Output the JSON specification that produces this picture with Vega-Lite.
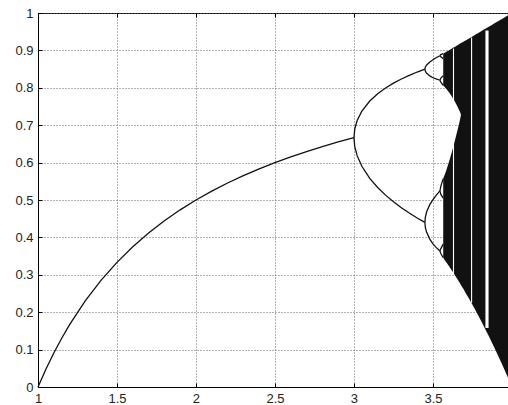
{
  "$schema": "https://vega.github.io/schema/vega-lite/v6.json",
  "width": 470,
  "height": 374,
  "autosize": {"type": "none"},
  "padding": {"left": 38, "top": 13, "right": 0, "bottom": 18},
  "background": "#ffffff",
  "config": {
    "view": {"stroke": "#000000", "strokeWidth": 1},
    "axis": {
      "title": null,
      "labelFont": "Liberation Sans",
      "labelFontSize": 13,
      "labelColor": "#222222",
      "labelOverlap": false,
      "labelBound": false,
      "labelFlush": false,
      "domainColor": "#000000",
      "tickColor": "#000000",
      "gridColor": "#666666",
      "gridDash": [1, 2],
      "gridOpacity": 1,
      "gridWidth": 1
    }
  },
  "datasets": {
    "bands": [
      {"band": "up", "r": 3.565, "lo": 0.8062, "hi": 0.8913},
      {"band": "up", "r": 3.57, "lo": 0.804, "hi": 0.8925},
      {"band": "up", "r": 3.58, "lo": 0.7992, "hi": 0.895},
      {"band": "up", "r": 3.59, "lo": 0.7941, "hi": 0.8975},
      {"band": "up", "r": 3.6, "lo": 0.7885, "hi": 0.9},
      {"band": "up", "r": 3.61, "lo": 0.7825, "hi": 0.9025},
      {"band": "up", "r": 3.62, "lo": 0.776, "hi": 0.905},
      {"band": "up", "r": 3.63, "lo": 0.7691, "hi": 0.9075},
      {"band": "up", "r": 3.64, "lo": 0.7617, "hi": 0.91},
      {"band": "up", "r": 3.65, "lo": 0.7537, "hi": 0.9125},
      {"band": "up", "r": 3.66, "lo": 0.7453, "hi": 0.915},
      {"band": "up", "r": 3.67, "lo": 0.7363, "hi": 0.9175},
      {"band": "up", "r": 3.678, "lo": 0.7279, "hi": 0.9195},
      {"band": "low", "r": 3.565, "lo": 0.3455, "hi": 0.5571},
      {"band": "low", "r": 3.57, "lo": 0.3425, "hi": 0.5627},
      {"band": "low", "r": 3.58, "lo": 0.3364, "hi": 0.5744},
      {"band": "low", "r": 3.59, "lo": 0.3303, "hi": 0.5871},
      {"band": "low", "r": 3.6, "lo": 0.324, "hi": 0.6003},
      {"band": "low", "r": 3.61, "lo": 0.3177, "hi": 0.6145},
      {"band": "low", "r": 3.62, "lo": 0.3112, "hi": 0.6293},
      {"band": "low", "r": 3.63, "lo": 0.3047, "hi": 0.6447},
      {"band": "low", "r": 3.64, "lo": 0.2981, "hi": 0.6608},
      {"band": "low", "r": 3.65, "lo": 0.2914, "hi": 0.6776},
      {"band": "low", "r": 3.66, "lo": 0.2847, "hi": 0.6948},
      {"band": "low", "r": 3.67, "lo": 0.2778, "hi": 0.7126},
      {"band": "low", "r": 3.678, "lo": 0.2722, "hi": 0.7279},
      {"band": "main", "r": 3.677, "lo": 0.2729, "hi": 0.9193},
      {"band": "main", "r": 3.69, "lo": 0.2638, "hi": 0.9225},
      {"band": "main", "r": 3.7, "lo": 0.2567, "hi": 0.925},
      {"band": "main", "r": 3.725, "lo": 0.2385, "hi": 0.93125},
      {"band": "main", "r": 3.75, "lo": 0.2197, "hi": 0.9375},
      {"band": "main", "r": 3.775, "lo": 0.2004, "hi": 0.94375},
      {"band": "main", "r": 3.8, "lo": 0.1805, "hi": 0.95},
      {"band": "main", "r": 3.825, "lo": 0.16, "hi": 0.95625},
      {"band": "main", "r": 3.85, "lo": 0.139, "hi": 0.9625},
      {"band": "main", "r": 3.875, "lo": 0.1173, "hi": 0.96875},
      {"band": "main", "r": 3.9, "lo": 0.0951, "hi": 0.975},
      {"band": "main", "r": 3.925, "lo": 0.0722, "hi": 0.98125},
      {"band": "main", "r": 3.95, "lo": 0.0488, "hi": 0.9875},
      {"band": "main", "r": 3.975, "lo": 0.0247, "hi": 0.99375}
    ],
    "windows": [
      {"r1": 3.6265, "r2": 3.6335, "lo": 0.3, "hi": 0.905},
      {"r1": 3.741, "r2": 3.748, "lo": 0.225, "hi": 0.934},
      {"r1": 3.832, "r2": 3.852, "lo": 0.158, "hi": 0.953}
    ],
    "curves": [
      {"b": "p1", "r": 1.0, "x": 0.0},
      {"b": "p1", "r": 1.05, "x": 0.0476},
      {"b": "p1", "r": 1.1, "x": 0.0909},
      {"b": "p1", "r": 1.15, "x": 0.1304},
      {"b": "p1", "r": 1.2, "x": 0.1667},
      {"b": "p1", "r": 1.3, "x": 0.2308},
      {"b": "p1", "r": 1.4, "x": 0.2857},
      {"b": "p1", "r": 1.5, "x": 0.3333},
      {"b": "p1", "r": 1.6, "x": 0.375},
      {"b": "p1", "r": 1.7, "x": 0.4118},
      {"b": "p1", "r": 1.8, "x": 0.4444},
      {"b": "p1", "r": 1.9, "x": 0.4737},
      {"b": "p1", "r": 2.0, "x": 0.5},
      {"b": "p1", "r": 2.1, "x": 0.5238},
      {"b": "p1", "r": 2.2, "x": 0.5455},
      {"b": "p1", "r": 2.3, "x": 0.5652},
      {"b": "p1", "r": 2.4, "x": 0.5833},
      {"b": "p1", "r": 2.5, "x": 0.6},
      {"b": "p1", "r": 2.6, "x": 0.6154},
      {"b": "p1", "r": 2.7, "x": 0.6296},
      {"b": "p1", "r": 2.8, "x": 0.6429},
      {"b": "p1", "r": 2.9, "x": 0.6552},
      {"b": "p1", "r": 3.0, "x": 0.6667},
      {"b": "p2u", "r": 3.0, "x": 0.6667},
      {"b": "p2u", "r": 3.005, "x": 0.6899},
      {"b": "p2u", "r": 3.02, "x": 0.7125},
      {"b": "p2u", "r": 3.05, "x": 0.7377},
      {"b": "p2u", "r": 3.1, "x": 0.7646},
      {"b": "p2u", "r": 3.15, "x": 0.784},
      {"b": "p2u", "r": 3.2, "x": 0.7995},
      {"b": "p2u", "r": 3.25, "x": 0.8124},
      {"b": "p2u", "r": 3.3, "x": 0.8236},
      {"b": "p2u", "r": 3.35, "x": 0.8334},
      {"b": "p2u", "r": 3.4, "x": 0.8422},
      {"b": "p2u", "r": 3.449, "x": 0.8499},
      {"b": "p2l", "r": 3.0, "x": 0.6667},
      {"b": "p2l", "r": 3.005, "x": 0.6428},
      {"b": "p2l", "r": 3.02, "x": 0.6186},
      {"b": "p2l", "r": 3.05, "x": 0.5902},
      {"b": "p2l", "r": 3.1, "x": 0.558},
      {"b": "p2l", "r": 3.15, "x": 0.5335},
      {"b": "p2l", "r": 3.2, "x": 0.513},
      {"b": "p2l", "r": 3.25, "x": 0.4953},
      {"b": "p2l", "r": 3.3, "x": 0.4794},
      {"b": "p2l", "r": 3.35, "x": 0.4651},
      {"b": "p2l", "r": 3.4, "x": 0.452},
      {"b": "p2l", "r": 3.449, "x": 0.4401},
      {"b": "p4a", "r": 3.449, "x": 0.8499},
      {"b": "p4a", "r": 3.452, "x": 0.8557},
      {"b": "p4a", "r": 3.46, "x": 0.8612},
      {"b": "p4a", "r": 3.48, "x": 0.8692},
      {"b": "p4a", "r": 3.5, "x": 0.875},
      {"b": "p4a", "r": 3.52, "x": 0.8803},
      {"b": "p4a", "r": 3.544, "x": 0.8858},
      {"b": "p4b", "r": 3.449, "x": 0.8499},
      {"b": "p4b", "r": 3.452, "x": 0.8441},
      {"b": "p4b", "r": 3.46, "x": 0.8388},
      {"b": "p4b", "r": 3.48, "x": 0.8318},
      {"b": "p4b", "r": 3.5, "x": 0.8269},
      {"b": "p4b", "r": 3.52, "x": 0.8237},
      {"b": "p4b", "r": 3.544, "x": 0.8202},
      {"b": "p4c", "r": 3.449, "x": 0.4401},
      {"b": "p4c", "r": 3.452, "x": 0.4544},
      {"b": "p4c", "r": 3.46, "x": 0.4684},
      {"b": "p4c", "r": 3.48, "x": 0.4875},
      {"b": "p4c", "r": 3.5, "x": 0.5009},
      {"b": "p4c", "r": 3.52, "x": 0.5126},
      {"b": "p4c", "r": 3.544, "x": 0.5245},
      {"b": "p4d", "r": 3.449, "x": 0.4401},
      {"b": "p4d", "r": 3.452, "x": 0.4258},
      {"b": "p4d", "r": 3.46, "x": 0.4136},
      {"b": "p4d", "r": 3.48, "x": 0.3955},
      {"b": "p4d", "r": 3.5, "x": 0.3828},
      {"b": "p4d", "r": 3.52, "x": 0.3734},
      {"b": "p4d", "r": 3.544, "x": 0.3635},
      {"b": "p8a1", "r": 3.544, "x": 0.8858},
      {"b": "p8a1", "r": 3.55, "x": 0.889},
      {"b": "p8a1", "r": 3.565, "x": 0.8913},
      {"b": "p8a2", "r": 3.544, "x": 0.8858},
      {"b": "p8a2", "r": 3.55, "x": 0.883},
      {"b": "p8a2", "r": 3.565, "x": 0.878},
      {"b": "p8b1", "r": 3.544, "x": 0.8202},
      {"b": "p8b1", "r": 3.55, "x": 0.826},
      {"b": "p8b1", "r": 3.565, "x": 0.832},
      {"b": "p8b2", "r": 3.544, "x": 0.8202},
      {"b": "p8b2", "r": 3.55, "x": 0.815},
      {"b": "p8b2", "r": 3.565, "x": 0.8062},
      {"b": "p8c1", "r": 3.544, "x": 0.5245},
      {"b": "p8c1", "r": 3.55, "x": 0.537},
      {"b": "p8c1", "r": 3.565, "x": 0.5571},
      {"b": "p8c2", "r": 3.544, "x": 0.5245},
      {"b": "p8c2", "r": 3.55, "x": 0.515},
      {"b": "p8c2", "r": 3.565, "x": 0.505},
      {"b": "p8d1", "r": 3.544, "x": 0.3635},
      {"b": "p8d1", "r": 3.55, "x": 0.357},
      {"b": "p8d1", "r": 3.565, "x": 0.3455},
      {"b": "p8d2", "r": 3.544, "x": 0.3635},
      {"b": "p8d2", "r": 3.55, "x": 0.37},
      {"b": "p8d2", "r": 3.565, "x": 0.382}
    ]
  },
  "resolve": {"axis": {"x": "independent"}},
  "layer": [
    {
      "data": {"name": "bands"},
      "mark": {"type": "area", "color": "#111111", "interpolate": "monotone"},
      "encoding": {
        "x": {
          "field": "r", "type": "quantitative",
          "scale": {"domain": [1, 3.975], "nice": false},
          "axis": {"orient": "bottom", "values": [1, 1.5, 2, 2.5, 3, 3.5], "tickCount": 20, "format": "~g", "grid": true, "tickSize": -4, "labelPadding": 9}
        },
        "y": {
          "field": "lo", "type": "quantitative",
          "scale": {"domain": [0, 1], "nice": false},
          "axis": {"values": [0, 0.1, 0.2, 0.3, 0.4, 0.5, 0.6, 0.7, 0.8, 0.9, 1], "tickCount": 20, "format": "~g", "grid": true, "tickSize": -4, "labelPadding": 9}
        },
        "y2": {"field": "hi"},
        "detail": {"field": "band"}
      }
    },
    {
      "data": {"name": "windows"},
      "mark": {"type": "rect", "color": "#ffffff"},
      "encoding": {
        "x": {"field": "r1", "type": "quantitative", "axis": null},
        "x2": {"field": "r2"},
        "y": {
          "field": "lo", "type": "quantitative",
          "axis": {"values": [0, 0.1, 0.2, 0.3, 0.4, 0.5, 0.6, 0.7, 0.8, 0.9, 1], "tickCount": 20, "format": "~g", "grid": true, "tickSize": -4, "labelPadding": 9}
        },
        "y2": {"field": "hi"}
      }
    },
    {
      "data": {"name": "curves"},
      "mark": {"type": "line", "color": "#111111", "strokeWidth": 1.3},
      "encoding": {
        "x": {
          "field": "r", "type": "quantitative",
          "axis": {"orient": "top", "values": [1, 1.5, 2, 2.5, 3, 3.5], "tickCount": 20, "labels": false, "grid": false, "domain": false, "tickSize": -4}
        },
        "y": {
          "field": "x", "type": "quantitative",
          "axis": {"values": [0, 0.1, 0.2, 0.3, 0.4, 0.5, 0.6, 0.7, 0.8, 0.9, 1], "tickCount": 20, "format": "~g", "grid": true, "tickSize": -4, "labelPadding": 9}
        },
        "detail": {"field": "b"}
      }
    }
  ]
}
